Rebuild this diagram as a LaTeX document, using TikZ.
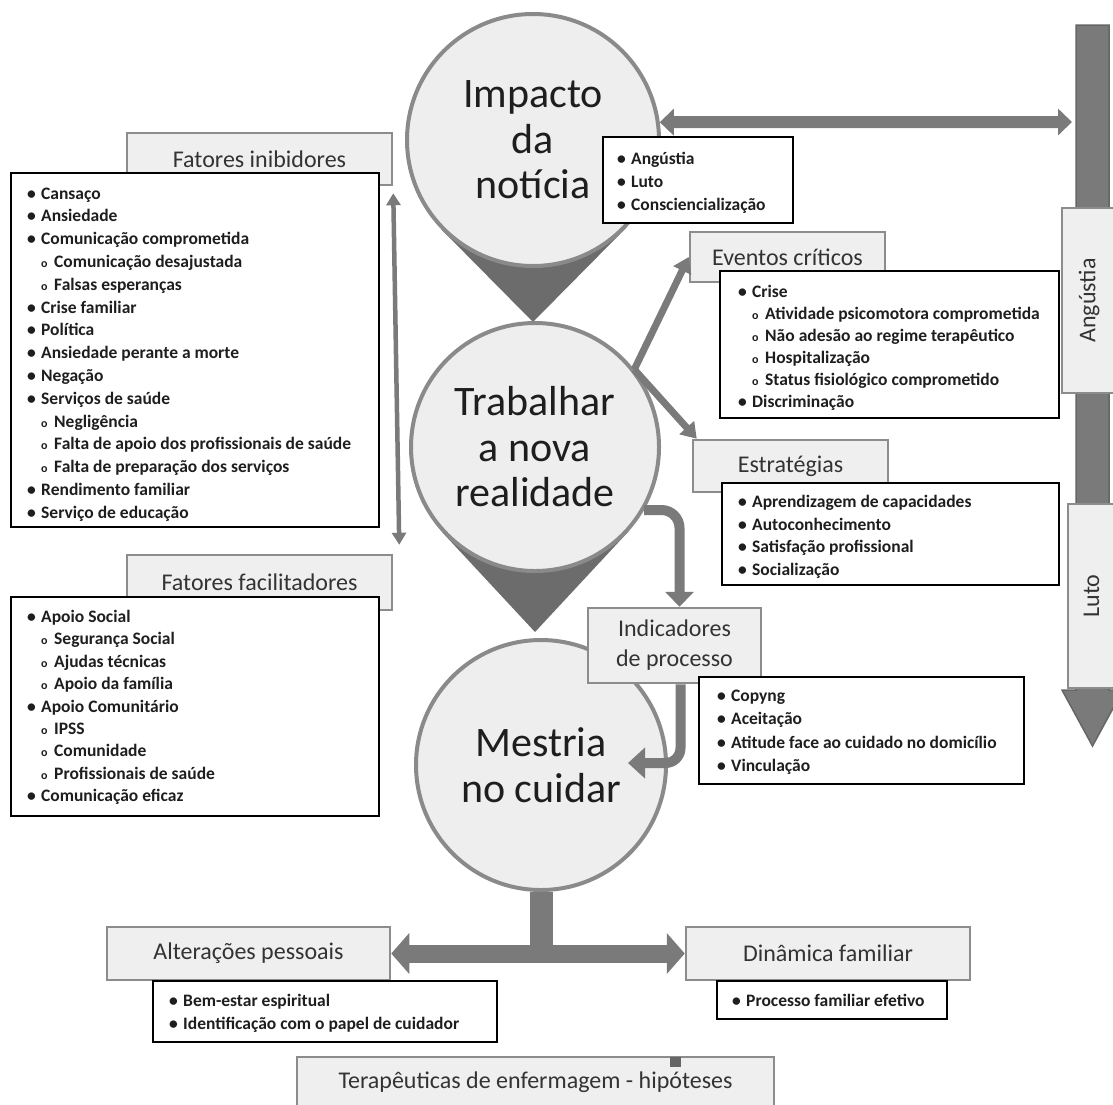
\documentclass[tikz,border=0pt]{standalone}
\usepackage{fontspec}
\setmainfont{Carlito}
\usetikzlibrary{arrows.meta,calc,backgrounds}
\definecolor{circfill}{HTML}{EEEEEE}
\definecolor{circline}{HTML}{8A8A8A}
\definecolor{pindark}{HTML}{6C6C6C}
\definecolor{lblfill}{HTML}{EFEFEF}
\definecolor{lblline}{HTML}{8C8C8C}
\definecolor{arrgray}{HTML}{7A7A7A}
\definecolor{arrdark}{HTML}{666666}
\definecolor{txtc}{HTML}{1E1E1E}
\definecolor{lbltxtc}{HTML}{333333}
\newcommand\bA{\makebox[14pt][l]{•}}
\newcommand\bB{\hspace{14pt}\makebox[13pt][l]{\fontsize{12}{12}\selectfont o}}
\newcommand\mklist[5]{%
  \foreach \t [count=\i from 0] in {#5} {\node[itm] (#1-\i) at (#2, {#3+#4*\i}) {\t};}}
\begin{document}
\begin{tikzpicture}[x=1pt,y=-1pt,
  circ/.style={circle,fill=circfill,draw=circline,line width=4pt,inner sep=0pt,align=center,font=\fontsize{42}{45.5}\selectfont,text=txtc},
  lbl/.style={rectangle,fill=lblfill,draw=lblline,line width=2.5pt,inner sep=0pt,align=center,font=\fontsize{24}{30}\selectfont,text=lbltxtc},
  blist/.style={rectangle,fill=white,draw=black,line width=1.4pt,inner sep=0pt},
  itm/.style={anchor=base west,inner sep=0pt,font=\fontsize{17.5}{20}\selectfont\bfseries,text=txtc},
  blk/.style={draw=arrgray},
  pin/.style={fill=pindark}
]
\useasboundingbox (0,0) rectangle (1113,1104);
\clip (0,0) rectangle (1113,1104);

% right vertical arrow
\draw[fill=arrgray,draw=arrdark,line width=1.5pt] (1076,25) -- (1109,25) -- (1109,690) -- (1123,690) -- (1092.5,746) -- (1062,690) -- (1076,690) -- cycle;

% circles
\node[circ,minimum size=252pt] (imp) at (533,140) {Impacto\\da\\notícia};
\node[circ,minimum size=248pt] (trab) at (535,447) {Trabalhar\\a nova\\realidade};
\node[circ,minimum size=250pt] (mes) at (541,765) {Mestria\\no cuidar};
\coordinate (impTip) at (533,322);
\coordinate (trabTip) at (535,632);
\begin{scope}[on background layer]
  \fill[pin] (imp.-43.8) -- (impTip) -- (imp.-136.2) -- (imp.center) -- cycle;
  \fill[pin] (trab.-42.1) -- (trabTip) -- (trab.-137.9) -- (trab.center) -- cycle;
\end{scope}

% label boxes
\node[lbl,minimum width=265pt,minimum height=52pt] (inibL) at (259.5,159) {Fatores inibidores};
\node[lbl,minimum width=265pt,minimum height=55pt] (facL) at (259.5,582.5) {Fatores facilitadores};
\node[lbl,minimum width=195pt,minimum height=50pt] (evL) at (787.5,257) {Eventos críticos};
\node[lbl,minimum width=195pt,minimum height=52pt] (esL) at (790.5,466) {Estratégias};
\node[lbl,minimum width=173pt,minimum height=75pt] (indL) at (674.5,645.5) {Indicadores\\de processo};
\node[lbl,minimum width=283pt,minimum height=53pt] (altL) at (248.5,953.5) {Alterações pessoais};
\node[lbl,minimum width=284pt,minimum height=53pt] (dinL) at (828,953.5) {Dinâmica familiar};
\node[lbl,minimum width=477pt,minimum height=50pt] (terL) at (535.5,1082) {Terapêuticas de enfermagem - hipóteses};
\node[lbl,rotate=90,minimum width=185pt,minimum height=54pt] (angL) at (1089,300.5) {Angústia};
\node[lbl,rotate=90,minimum width=184pt,minimum height=47pt] (lutoL) at (1091.5,596) {Luto};
\fill[arrdark] (670,1057) rectangle (681,1067);

% connectors
\coordinate (barL) at (1072,122);
\draw[blk,line width=12pt,{Triangle[width=26pt,length=14pt]}-{Triangle[width=26pt,length=14pt]}] (imp.8) -- (barL);
\draw[blk,line width=4.5pt,{Triangle[width=14pt,length=12pt]}-{Triangle[width=14pt,length=12pt]}] ($(inibL.south east)+(0,7)$) -- ($(facL.north east)+(6,-9)$);
\draw[blk,line width=7pt,-{Triangle[width=19pt,length=15pt]}] (trab.38) -- (evL.west);
\draw[blk,line width=7pt,-{Triangle[width=19pt,length=15pt]}] (trab.38) -- ($(esL.north west)+(5,0)$);
\draw[blk,line width=10pt,rounded corners=18pt,-{Triangle[width=28pt,length=15pt]}] (trab.-30) -| ($(indL.north)+(5,0)$);
\coordinate (mesIn) at (628,763);
\draw[blk,line width=10pt,rounded corners=15pt,-{Triangle[width=30pt,length=17pt]}] ($(indL.south)+(6,0)$) |- (mesIn);
\coordinate (stemB) at (541,946);
\draw[blk,line width=23pt] (mes.south) -- (stemB);
\draw[blk,line width=18pt,{Triangle[width=40pt,length=18pt]}-{Triangle[width=40pt,length=18pt]}] (altL.east) -- (dinL.west);

% bullet boxes
\node[blist,minimum width=190pt,minimum height=86pt] (impB) at (698,180) {};
\node[blist,minimum width=368pt,minimum height=354pt] (inibB) at (195,350) {};
\node[blist,minimum width=368pt,minimum height=219pt] (facB) at (195,706.5) {};
\node[blist,minimum width=339pt,minimum height=147pt] (evB) at (889.5,344.5) {};
\node[blist,minimum width=337pt,minimum height=102pt] (esB) at (890.5,534) {};
\node[blist,minimum width=325pt,minimum height=107pt] (indB) at (861.5,730.5) {};
\node[blist,minimum width=344pt,minimum height=61pt] (altB) at (325,1011.5) {};
\node[blist,minimum width=230pt,minimum height=38pt] (dinB) at (832,1000) {};

% lists
\mklist{imp}{617}{164}{23}{{\bA Angústia},{\bA Luto},{\bA Consciencialização}}
\mklist{inib}{27}{199}{22.8}{{\bA Cansaço},{\bA Ansiedade},{\bA Comunicação comprometida},{\bB Comunicação desajustada},{\bB Falsas esperanças},{\bA Crise familiar},{\bA Política},{\bA Ansiedade perante a morte},{\bA Negação},{\bA Serviços de saúde},{\bB Negligência},{\bB Falta de apoio dos profissionais de saúde},{\bB Falta de preparação dos serviços},{\bA Rendimento familiar},{\bA Serviço de educação}}
\mklist{fac}{27}{622.5}{22.4}{{\bA Apoio Social},{\bB Segurança Social},{\bB Ajudas técnicas},{\bB Apoio da família},{\bA Apoio Comunitário},{\bB IPSS},{\bB Comunidade},{\bB Profissionais de saúde},{\bA Comunicação eficaz}}
\mklist{ev}{738}{297.5}{22}{{\bA Crise},{\bB Atividade psicomotora comprometida},{\bB Não adesão ao regime terapêutico},{\bB Hospitalização},{\bB Status fisiológico comprometido},{\bA Discriminação}}
\mklist{es}{738}{507.5}{22.7}{{\bA Aprendizagem de capacidades},{\bA Autoconhecimento},{\bA Satisfação profissional},{\bA Socialização}}
\mklist{ind}{717}{701.5}{23.3}{{\bA Copyng},{\bA Aceitação},{\bA Atitude face ao cuidado no domicílio},{\bA Vinculação}}
\mklist{alt}{169}{1006.5}{23}{{\bA Bem-estar espiritual},{\bA Identificação com o papel de cuidador}}
\mklist{din}{732}{1006.5}{23}{{\bA Processo familiar efetivo}}
\end{tikzpicture}
\end{document}
